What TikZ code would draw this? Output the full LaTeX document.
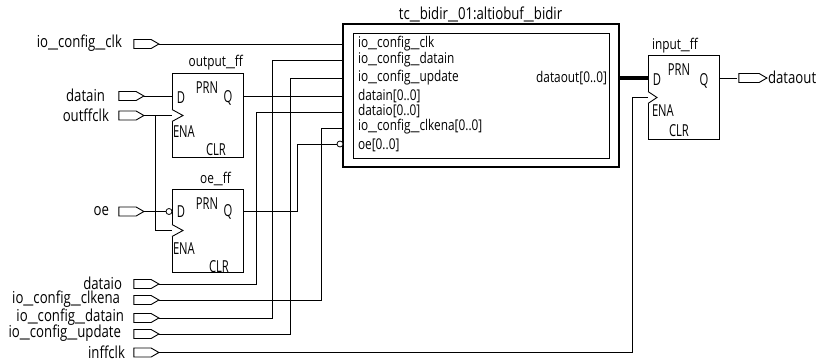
\documentclass[tikz,border=0pt]{standalone}
\usepackage{fontspec}
\setmainfont[FakeStretch=0.8]{Open Sans}
\newfontface\capfont[FakeStretch=0.68]{Open Sans}
\newfontface\uscfont[FakeStretch=1.35]{Open Sans}
\newcommand{\usc}{{\uscfont\_}}
\usetikzlibrary{shapes.symbols}
\tikzset{
  pinbox/.style={draw,line width=0.9pt,signal,signal to=east,signal from=nowhere,signal pointer angle=60,minimum width=25pt,minimum height=9pt,inner sep=0pt,outer sep=0pt},
  txt/.style={inner sep=0pt,outer sep=0pt,font=\fontsize{16.5}{17}\selectfont},
  smalltxt/.style={inner sep=0pt,outer sep=0pt,font=\fontsize{14.8}{15}\selectfont},
  captxt/.style={inner sep=0pt,outer sep=0pt,font=\fontsize{16.5}{17}\capfont},
  pinlabel/.style={txt,anchor=east},
  portlabel/.style={smalltxt,anchor=west},
  ffbox/.style={draw,line width=0.9pt,minimum width=71pt,minimum height=83.5pt,inner sep=0pt,outer sep=0pt},
  wire/.style={line width=0.9pt},
  bubble/.style={draw,fill=white,circle,line width=0.8pt,minimum size=6pt,inner sep=0pt,outer sep=0pt}
}
\begin{document}
\begin{tikzpicture}[x=1pt,y=-1pt]
\useasboundingbox (0,0) rectangle (819,362);
\node[pinlabel] (clklabel) at (122,43) {io\usc config\usc clk};
\node[pinlabel] (datainlabel) at (105,95) {datain};
\node[pinlabel] (outffclklabel) at (109,115) {outffclk};
\node[pinlabel] (oelabel) at (109,211) {oe};
\node[pinlabel] (dataiolabel) at (122,283) {dataio};
\node[pinlabel] (clkenalabel) at (120,299) {io\usc config\usc clkena};
\node[pinlabel] (cfgdatainlabel) at (124,317) {io\usc config\usc datain};
\node[pinlabel] (updatelabel) at (121,333) {io\usc config\usc update};
\node[pinlabel] (inffclklabel) at (125,352) {inffclk};
\node[pinbox] (clkpin) at (142.5,44) {};
\node[pinbox] (datainpin) at (127.5,96) {};
\node[pinbox] (outffclkpin) at (127.5,115.5) {};
\node[pinbox] (oepin) at (127.5,211.5) {};
\node[pinbox] (dataiopin) at (142.5,284) {};
\node[pinbox] (clkenapin) at (142.5,300) {};
\node[pinbox] (cfgdatainpin) at (142.5,318) {};
\node[pinbox] (updatepin) at (142.5,334) {};
\node[pinbox] (inffclkpin) at (142.5,352.5) {};
\node[ffbox] (outputff) at (207.5,115.5) {};
\node[ffbox] (oeff) at (207.5,231) {};
\node[ffbox] (inputff) at (683.5,97.5) {};
\node[draw,line width=2.5pt,minimum width=276pt,minimum height=143pt,inner sep=0pt,outer sep=0pt] (bidir) at (481,95.5) {};
\node[draw,line width=0.9pt,minimum width=256pt,minimum height=125pt,inner sep=0pt,outer sep=0pt] (bidirinner) at (481,95.5) {};
\node[txt] (bidirtitle) at (480.5,14) {tc\usc bidir\usc 01:altiobuf\usc bidir};
\node[smalltxt,anchor=east] (outputfftitle) at (243,63) {output\usc ff};
\node[smalltxt] (oefftitle) at (215.5,179) {oe\usc ff};
\node[smalltxt,anchor=west] (inputfftitle) at (652,46) {input\usc ff};
\node[portlabel] (portclklabel) at (358,44) {io\usc config\usc clk};
\node[portlabel] (portcfgdatainlabel) at (358,60) {io\usc config\usc datain};
\node[portlabel] (portupdatelabel) at (358,78) {io\usc config\usc update};
\node[portlabel] (portdatainlabel) at (358,96) {datain[0..0]};
\node[portlabel] (portdataiolabel) at (358,111) {dataio[0..0]};
\node[portlabel] (portclkenalabel) at (358,127) {io\usc config\usc clkena[0..0]};
\node[portlabel] (portoelabel) at (358,145) {oe[0..0]};
\node[smalltxt,anchor=east] (portoutlabel) at (607,78) {dataout[0..0]};
\node[captxt] (outputd) at (181,98) {D};
\node[captxt] (outputprn) at (207,88) {PRN};
\node[captxt] (outputq) at (228,98) {Q};
\node[captxt,anchor=west] (outputena) at (173,132) {ENA};
\node[captxt] (outputclr) at (216,150) {CLR};
\node[captxt] (oed) at (181,212) {D};
\node[captxt] (oeprn) at (207,204) {PRN};
\node[captxt] (oeq) at (228,212) {Q};
\node[captxt,anchor=west] (oeena) at (173,249) {ENA};
\node[captxt] (oeclr) at (219,267) {CLR};
\node[captxt] (inputd) at (657,80) {D};
\node[captxt] (inputprn) at (679,70) {PRN};
\node[captxt] (inputq) at (704,81) {Q};
\node[captxt,anchor=west] (inputena) at (652,111) {ENA};
\node[captxt] (inputclr) at (679,131) {CLR};
\node[pinbox,minimum width=28pt] (outpin) at (749,78) {};
\node[txt,anchor=west] (outlabel) at (768,77) {dataout};
\coordinate (portclk) at (343,44);
\coordinate (portcfgdatain) at (343,60);
\coordinate (portupdate) at (343,78);
\coordinate (portdatain) at (343,96);
\coordinate (portdataio) at (343,112);
\coordinate (portclkena) at (343,128);
\coordinate (cfgdatainbend) at (272,60);
\coordinate (updatebend) at (290,78);
\coordinate (dataiobend) at (256,112);
\coordinate (clkenabend) at (321.5,128);
\coordinate (oebend) at (297.5,144);
\coordinate (inffclkbend) at (632,97.5);
\coordinate (clkbranch) at (155.5,115.5);
\coordinate (oeclkbend) at (155.5,230.5);
\node[bubble] (portoe) at (340,144) {};
\node[bubble] (oeinv) at (169,211.5) {};
\draw[wire] (clkpin.east) -- (portclk);
\draw[wire] (datainpin.east) -- (datainpin.east -| outputff.west);
\draw[wire] (outffclkpin.east) -- (outffclkpin.east -| outputff.west);
\draw[wire] (clkbranch) -- (oeclkbend) -- (oeclkbend -| oeff.west);
\draw[wire] (oepin.east) -- (oeinv);
\draw[wire] (outputff.east |- portdatain) -- (portdatain);
\draw[wire] (oeff.east |- oeinv) -| (oebend) -- (portoe);
\draw[wire] (dataiopin.east) -| (dataiobend) -- (portdataio);
\draw[wire] (clkenapin.east) -| (clkenabend) -- (portclkena);
\draw[wire] (cfgdatainpin.east) -| (cfgdatainbend) -- (portcfgdatain);
\draw[wire] (updatepin.east) -| (updatebend) -- (portupdate);
\draw[wire] (inffclkpin.east) -| (inffclkbend) -- (inffclkbend -| inputff.west);
\draw[line width=3.5pt] (bidir.east |- outpin) -- (inputff.west |- outpin);
\draw[wire] (inputff.east |- outpin) -- (737,78);
\draw[wire,fill=white] (172,109.5) -- (183,115.5) -- (172,121.5);
\draw[wire,fill=white] (172,224.5) -- (183,230.5) -- (172,236.5);
\draw[wire,fill=white] (648,91.5) -- (657,97.5) -- (648,103.5);
\end{tikzpicture}
\end{document}
